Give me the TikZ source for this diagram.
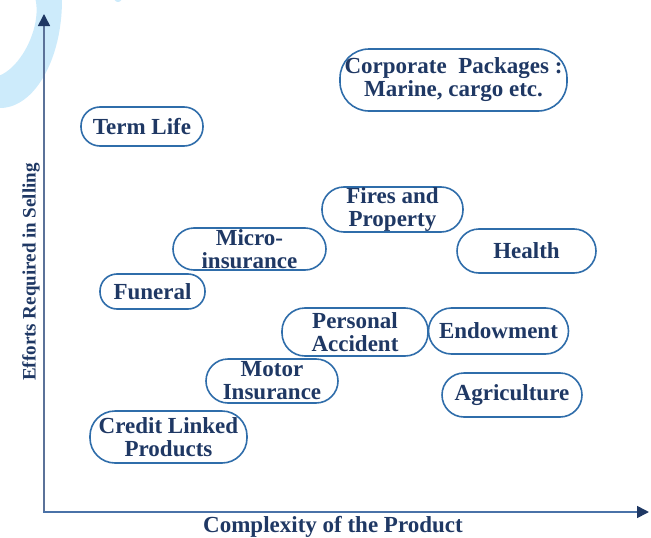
\documentclass[tikz,border=0pt]{standalone}
\usepackage{fontspec}
\setmainfont{Liberation Serif}
\usetikzlibrary{arrows.meta}
\definecolor{navy}{HTML}{1F3864}
\definecolor{boxline}{HTML}{2F6DAA}
\definecolor{axisv}{HTML}{5B7299}
\definecolor{axish}{HTML}{4A72A8}
\definecolor{paleblue}{HTML}{CDEBFB}
\tikzset{
  product/.style={draw=boxline, line width=1.6pt, fill=white, text=navy,
    font=\fontsize{23}{23}\selectfont\bfseries, align=center, inner sep=0pt},
  axisline/.style={line width=1.6pt, -{Triangle[length=12pt,width=12pt,fill=navy,color=navy]}},
  axislabel/.style={text=navy, font=\fontsize{23}{24}\selectfont\bfseries},
}
\newcommand{\prodnode}[6]{%
  \node[product, minimum width=#4pt, minimum height=#5pt, rounded corners=#6pt] (#1) at (#2,#3)}
\begin{document}
\begin{tikzpicture}[x=1pt,y=-1pt]
\useasboundingbox (0,0) rectangle (651,538);
% decorative crescent in the corner
\begin{scope}
  \clip (0,0) rectangle (651,538);
  \fill[paleblue, even odd rule] (0,0) ellipse [x radius=62, y radius=108]
    (5,30) ellipse [x radius=27, y radius=50, rotate=-23];
  \fill[paleblue] (118,-5) ellipse [x radius=5, y radius=7];
\end{scope}
% axes
\coordinate (origin) at (44,512);
\coordinate (ytip) at (44,14);
\coordinate (xtip) at (649,512);
\draw[axisline, axisv] (origin) -- (ytip);
\draw[axisline, axish] (43,512) -- (xtip);
\node[axislabel] (xlab) at (333,527) {Complexity of the Product};
\node[axislabel, font=\fontsize{19}{21}\selectfont\bfseries, rotate=90] (ylab) at (31,272) {Efforts Required in Selling};
% products
\prodnode{corp}{453.5}{80}{227}{62}{29} {Corporate\ \ Packages :\\Marine, cargo etc.};
\prodnode{term}{142}{126.5}{122}{39}{19} {Term Life};
\prodnode{fires}{392.5}{209.5}{141}{45}{22} {Fires and\\Property};
\prodnode{micro}{249.5}{249}{153}{42}{21} {Micro-\\insurance};
\prodnode{health}{526.5}{251}{139}{44}{22} {Health};
\prodnode{funeral}{152.5}{291.5}{105}{35}{17} {Funeral};
\prodnode{personal}{355}{332}{146}{48}{23} {Personal\\Accident};
\prodnode{endow}{498.5}{331}{140}{46}{23} {Endowment};
\prodnode{motor}{272}{381}{132}{44}{22} {Motor\\Insurance};
\prodnode{agri}{512}{395}{140}{44}{22} {Agriculture};
\prodnode{credit}{168.5}{437}{157}{52}{25} {Credit Linked\\Products};
\end{tikzpicture}
\end{document}
